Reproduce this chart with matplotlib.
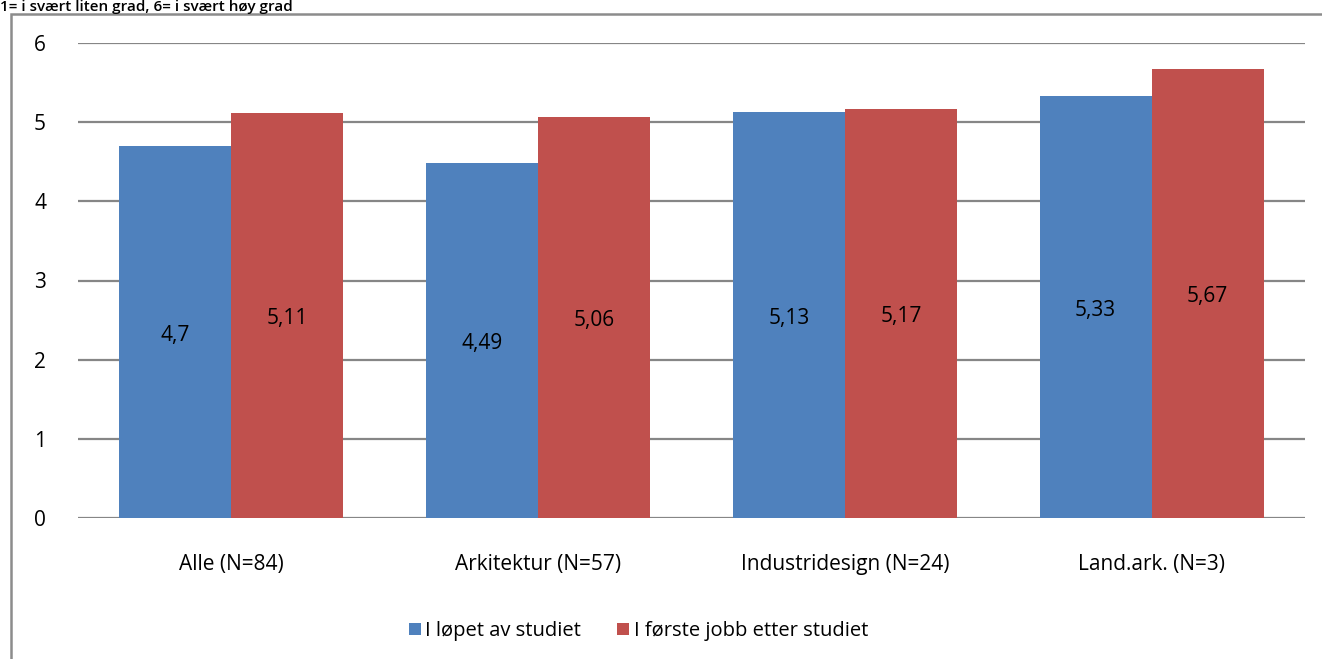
import numpy as np
import matplotlib.pyplot as plt
from matplotlib.patches import Rectangle

categories = ["Alle (N=84)", "Arkitektur (N=57)", "Industridesign (N=24)", "Land.ark. (N=3)"]
series_names = ["I løpet av studiet", "I første jobb etter studiet"]
during = [4.7, 4.49, 5.13, 5.33]
first_job = [5.11, 5.06, 5.17, 5.67]
title = "1= i svært liten grad, 6= i svært høy grad"

plt.rcParams['font.family'] = ['Open Sans', 'DejaVu Sans']
fs = 15

fig = plt.figure(figsize=(13.22, 6.59), dpi=100)
ax = fig.add_axes([78 / 1322, 1 - 518 / 659, (1305 - 78) / 1322, (518 - 43) / 659])

x = np.arange(len(categories))
w = 0.365
b1 = ax.bar(x - w / 2, during, w, color="#4F81BD", label=series_names[0])
b2 = ax.bar(x + w / 2, first_job, w, color="#C0504D", label=series_names[1])

for bars, vals in ((b1, during), (b2, first_job)):
    for rect, v in zip(bars, vals):
        ax.text(rect.get_x() + rect.get_width() / 2, v / 2 - 0.04, str(v).replace(".", ","),
                ha="center", va="center", fontsize=fs)

ax.set_xlim(-0.5, len(categories) - 0.5)
ax.set_ylim(0, 6)
ax.set_yticks(range(7))
ax.set_xticks(x)
ax.set_xticklabels(categories)
ax.tick_params(axis="both", length=0, labelsize=fs)
ax.tick_params(axis="y", pad=23)
ax.tick_params(axis="x", pad=26)
ax.yaxis.grid(True, color="#868686", linewidth=1.6)
ax.set_axisbelow(True)
for s in ax.spines.values():
    s.set_visible(False)

# outer chart frame
fig.patches.append(Rectangle((11 / 1322, -0.2), 1.2, 1 - 14 / 659 + 0.2,
                             transform=fig.transFigure, fill=False,
                             edgecolor="#8c8c8c", linewidth=1.8))

fig.text(0.0, 1 - 11 / 659, title, ha="left", va="baseline", fontsize=11,
         fontweight="semibold")

fig.legend(handles=[b1, b2], loc="center", bbox_to_anchor=(0.483, 1 - 631 / 659),
           ncol=2, frameon=False, fontsize=14.5, handlelength=0.6, handleheight=0.6,
           handletextpad=0.2, columnspacing=1.8)

fig.savefig("out.png", dpi=100)
